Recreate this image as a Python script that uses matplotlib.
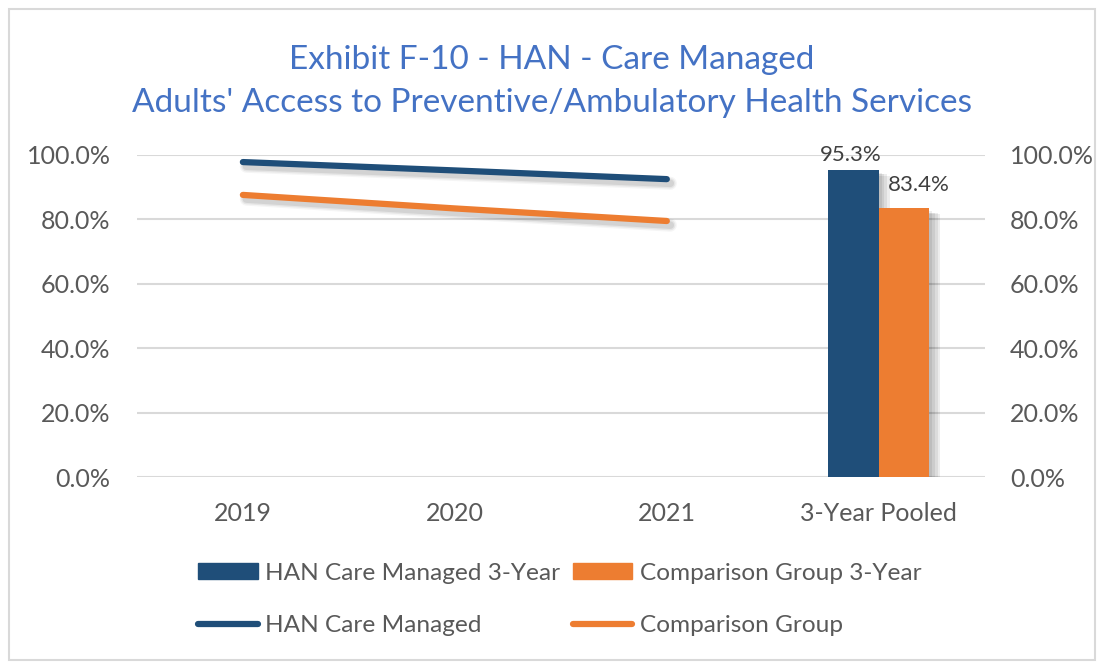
import matplotlib
matplotlib.use("Agg")
import matplotlib.pyplot as plt
import matplotlib.patheffects as pe
from matplotlib.patches import Rectangle, Patch
from matplotlib.lines import Line2D
from matplotlib.ticker import PercentFormatter
import numpy as np

plt.rcParams['font.family'] = ['Lato', 'DejaVu Sans']

categories = ["2019", "2020", "2021", "3-Year Pooled"]
han_line = [0.978, 0.952, 0.925]
comp_line = [0.876, 0.834, 0.795]
han_pooled = 0.953
comp_pooled = 0.834
yticks = [0.0, 0.2, 0.4, 0.6, 0.8, 1.0]

navy = "#1F4E79"
orange = "#ED7D31"
grey_txt = "#595959"

fig = plt.figure(figsize=(11.04, 6.64), dpi=100)
ax = fig.add_axes([0.124, 0.2816, 0.768, 0.485])

for y in yticks:
    ax.axhline(y, color="#D9D9D9", lw=1.5, zorder=0)

# soft shadow: a few wide faint strokes offset down-right
lw = 4.5
shadow = [pe.SimpleLineShadow(offset=(2.5, -3), alpha=a, shadow_color="black", linewidth=w)
          for a, w in [(0.04, lw + 5), (0.06, lw + 3), (0.08, lw + 1)]] + [pe.Normal()]
x = np.arange(3)
ax.plot(x, han_line, color=navy, lw=lw, solid_capstyle="round", path_effects=shadow, zorder=3)
ax.plot(x, comp_line, color=orange, lw=lw, solid_capstyle="round", path_effects=shadow, zorder=3)

bw = 0.238
pshadow = [pe.SimplePatchShadow(offset=o, alpha=0.07, shadow_rgbFace="black")
           for o in [(2, -2), (4, -3), (6, -3), (8, -4)]] + [pe.Normal()]
ax.bar(3 - bw / 2, han_pooled, bw, color=navy, path_effects=pshadow, zorder=2)
ax.bar(3 + bw / 2, comp_pooled, bw, color=orange, path_effects=pshadow, zorder=2)
ax.annotate("{:.1%}".format(han_pooled), (3 - bw / 2, han_pooled), xytext=(-2, 4),
            textcoords="offset points", ha="center", va="bottom", fontsize=16, color="#404040")
ax.annotate("{:.1%}".format(comp_pooled), (3 + bw / 2, comp_pooled), xytext=(11, 10),
            textcoords="offset points", ha="center", va="bottom", fontsize=16, color="#404040")

ax.set_xlim(-0.5, 3.5)
ax.set_ylim(0, 1.0)
ax.set_xticks(range(4))
ax.set_xticklabels(categories)
ax.set_yticks(yticks)
ax.yaxis.set_major_formatter(PercentFormatter(1.0, decimals=1))
ax.tick_params(length=0, labelsize=18, labelcolor=grey_txt)
ax.tick_params(axis="y", pad=19)
ax.tick_params(axis="x", pad=18)
for s in ax.spines.values():
    s.set_visible(False)

ax2 = ax.twinx()
ax2.set_ylim(0, 1.0)
ax2.set_yticks(yticks)
ax2.yaxis.set_major_formatter(PercentFormatter(1.0, decimals=1))
ax2.tick_params(length=0, labelsize=18, labelcolor=grey_txt, pad=18)
for s in ax2.spines.values():
    s.set_visible(False)

fig.text(0.5, 0.91, "Exhibit F-10 - HAN - Care Managed", ha="center", va="center",
         fontsize=24, color="#4472C4")
fig.text(0.5, 0.845, "Adults' Access to Preventive/Ambulatory Health Services", ha="center",
         va="center", fontsize=24, color="#4472C4")

handles = [Patch(color=navy), Line2D([], [], color=navy, lw=lw, solid_capstyle="round"),
           Patch(color=orange), Line2D([], [], color=orange, lw=lw, solid_capstyle="round")]
fig.legend(handles,
           ["HAN Care Managed 3-Year", "HAN Care Managed", "Comparison Group 3-Year", "Comparison Group"],
           ncol=2, loc="center", bbox_to_anchor=(0.507, 0.097), frameon=False, fontsize=17.6,
           labelcolor=grey_txt, handlelength=2.45, handleheight=0.66, handletextpad=0.3,
           columnspacing=0.5, labelspacing=1.3)

fig.patches.append(Rectangle((0.008, 0.006), 0.984, 0.98, transform=fig.transFigure,
                             fill=False, edgecolor="#D9D9D9", lw=1.5))

fig.savefig("out.png", dpi=100, facecolor="white")
